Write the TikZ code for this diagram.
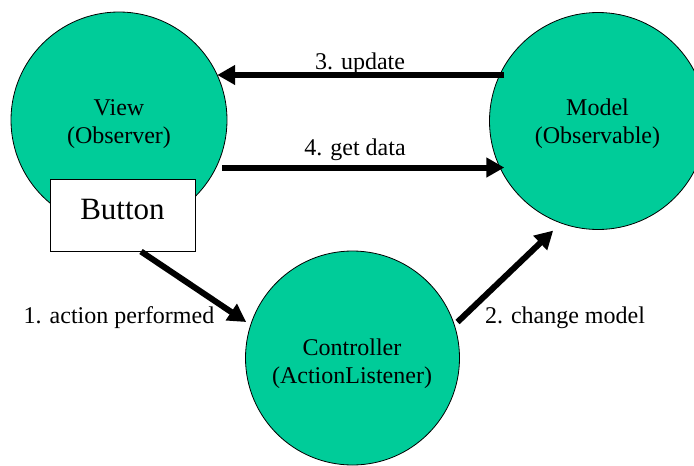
\documentclass[tikz,border=0pt]{standalone}
\usepackage{fontspec}
\setmainfont{Liberation Serif}
\usetikzlibrary{arrows.meta}
\definecolor{mvcgreen}{RGB}{0,204,153}
\begin{document}
\begin{tikzpicture}[x=1pt,y=-1pt,
  ball/.style={circle,draw=black,line width=0.8pt,fill=mvcgreen,inner sep=0pt},
  txt/.style={align=center,font=\fontsize{24}{28}\selectfont,inner sep=0pt},
  lbl/.style={font=\fontsize{24}{28}\selectfont,inner sep=0pt,anchor=base},
  arr/.style={line width=6pt,-{Triangle[length=18pt,width=19pt]}},
  btn/.style={draw=black,line width=1pt,fill=white,minimum width=145pt,minimum height=72pt,
    inner sep=0pt,font=\fontsize{31}{36}\selectfont,text depth=10.5pt}]
\useasboundingbox (0,0) rectangle (694,466);
% circles
\node[ball,minimum size=216pt] (view) at (119,120) {};
\node[ball,minimum size=217pt] (model) at (598,121) {};
\node[ball,minimum size=214pt] (ctrl) at (352.5,358) {};
% circle texts
\node[txt] (viewtxt) at (119,124) {View\\(Observer)};
\node[txt] (modeltxt) at (597.5,124) {Model\\(Observable)};
\node[txt] (ctrltxt) at (352,363.5) {Controller\\(ActionListener)};
% button
\node[btn] (button) at (122.5,215) {Button};
% arrows
\draw[arr,shorten <=-4.7pt] (model.155) -- (view.25 |- model.155);
\draw[arr,shorten <=6pt,shorten >=-5pt] (view.-26.4) -- (view.-26.4 -| model.205.7);
\draw[arr,shorten >=5pt] ([xshift=18.5pt]button.south) -- (ctrl.162.3);
\draw[arr,shorten <=4pt,shorten >=10.5pt] (ctrl.18.4) -- (model.250.3);
% labels
\node[lbl] (l3) at (360,69) {3. update};
\node[lbl] (l4) at (355,155) {4. get data};
\node[lbl] (l1) at (119,323) {1. action performed};
\node[lbl] (l2) at (565,323) {2. change model};
\end{tikzpicture}
\end{document}
